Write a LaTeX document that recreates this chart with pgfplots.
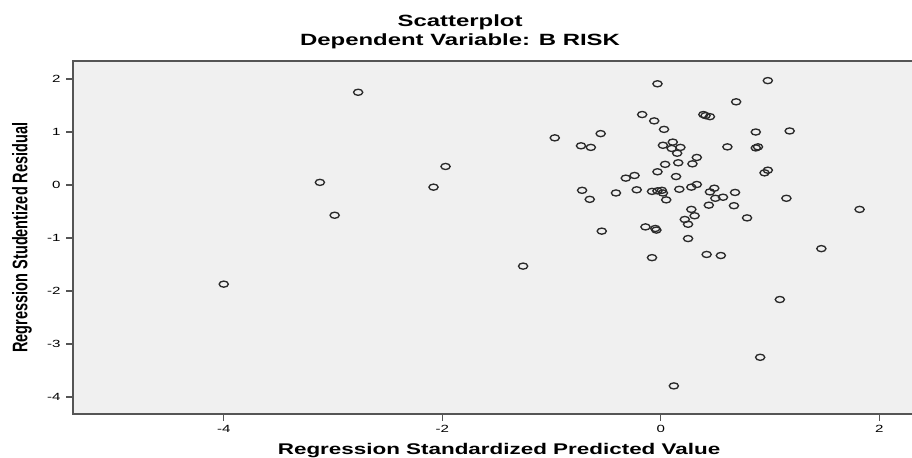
\documentclass[border=0pt]{standalone}
\usepackage{fontspec}
\setmainfont{Liberation Sans}
\usepackage{pgfplots}
\pgfplotsset{compat=1.18}
\definecolor{bgc}{HTML}{F0F0F0}
\definecolor{framec}{HTML}{555555}
\definecolor{markc}{HTML}{2A2A2A}
\pgfplotstableread{
x y
-4.00 -1.87
-2.77 1.75
-3.12 0.05
-2.985 -0.57
-1.97 0.35
-2.08 -0.04
-1.26 -1.53
-0.97 0.89
-0.73 0.74
-0.64 0.71
-0.55 0.97
-0.03 1.91
-0.17 1.33
-0.06 1.21
0.03 1.05
0.39 1.33
0.41 1.31
0.45 1.29
0.11 0.81
0.02 0.75
0.10 0.69
0.18 0.71
0.15 0.60
0.33 0.52
0.29 0.40
0.16 0.42
0.04 0.39
-0.03 0.25
0.14 0.16
-0.24 0.18
-0.32 0.13
-0.72 -0.10
-0.65 -0.27
-0.41 -0.15
-0.22 -0.09
-0.08 -0.12
-0.03 -0.11
0.01 -0.10
0.02 -0.15
0.05 -0.28
0.17 -0.08
0.28 -0.04
0.33 0.01
0.49 -0.06
0.45 -0.13
0.50 -0.25
0.57 -0.23
0.44 -0.38
0.28 -0.46
0.31 -0.58
0.22 -0.65
0.25 -0.74
-0.54 -0.87
-0.14 -0.79
-0.05 -0.82
-0.04 -0.85
0.25 -1.01
-0.08 -1.37
0.42 -1.31
0.55 -1.33
0.98 1.97
0.69 1.57
0.87 1.00
1.18 1.02
0.61 0.72
0.87 0.70
0.89 0.72
0.95 0.23
0.98 0.28
0.68 -0.14
0.67 -0.39
1.15 -0.25
1.82 -0.46
0.79 -0.62
1.47 -1.20
1.09 -2.16
0.91 -3.25
0.12 -3.79
}\residuals
\begin{document}
\begin{tikzpicture}
\begin{axis}[
  at={(0,0)}, anchor=south west,
  scale only axis,
  width=639.1pt, height=264.75pt,
  xmin=-5.38, xmax=2.42, ymin=-4.32, ymax=2.34,
  axis background/.style={fill=bgc},
  axis line style={framec, line width=0.9pt},
  tick align=outside, tick pos=left,
  major tick length=5pt,
  tick style={framec, line width=0.9pt},
  xtick={-4,-2,0,2}, xticklabels={-4,-2,0,2},
  ytick={-4,-3,-2,-1,0,1,2}, yticklabels={-4,-3,-2,-1,0,1,2},
  xticklabel style={font=\fontsize{7.8pt}{9pt}\selectfont, xscale=1.45, inner sep=0pt, anchor=north},
  yticklabel style={font=\fontsize{7.8pt}{9pt}\selectfont, xscale=1.45, inner sep=0pt, anchor=east},
  xticklabel shift=3.5pt,
  yticklabel shift=4pt,
  extra description/.code={
    \node[font=\bfseries\fontsize{12.2pt}{14pt}\selectfont, xscale=1.47, anchor=base, inner sep=0pt]
      at (axis description cs:0.4542,1.0973) {Scatterplot};
    \node[font=\bfseries\fontsize{12.2pt}{14pt}\selectfont, xscale=1.47, anchor=base, inner sep=0pt]
      at (axis description cs:0.4542,1.0425) {Dependent Variable: B RISK};
    \node[font=\bfseries\fontsize{11.6pt}{14pt}\selectfont, xscale=1.45, anchor=base, inner sep=0pt]
      at (axis description cs:0.5,-0.1161) {Regression Standardized Predicted Value};
    \node[font=\bfseries\fontsize{10.9pt}{13pt}\selectfont, rotate=90, yscale=1.45, anchor=center, inner sep=0pt]
      at (axis description cs:-0.0599,0.5) {Regression Studentized Residual};
  },
]
\addplot[only marks, mark=o, mark size=2.3pt,
  mark options={xscale=1.5, line width=1pt, draw=markc}] table[x=x, y=y] {\residuals};
\end{axis}
\pgfresetboundingbox
\path[use as bounding box] (-54.75pt,-32.25pt) rectangle (629.25pt,310.5pt);
\end{tikzpicture}
\end{document}
